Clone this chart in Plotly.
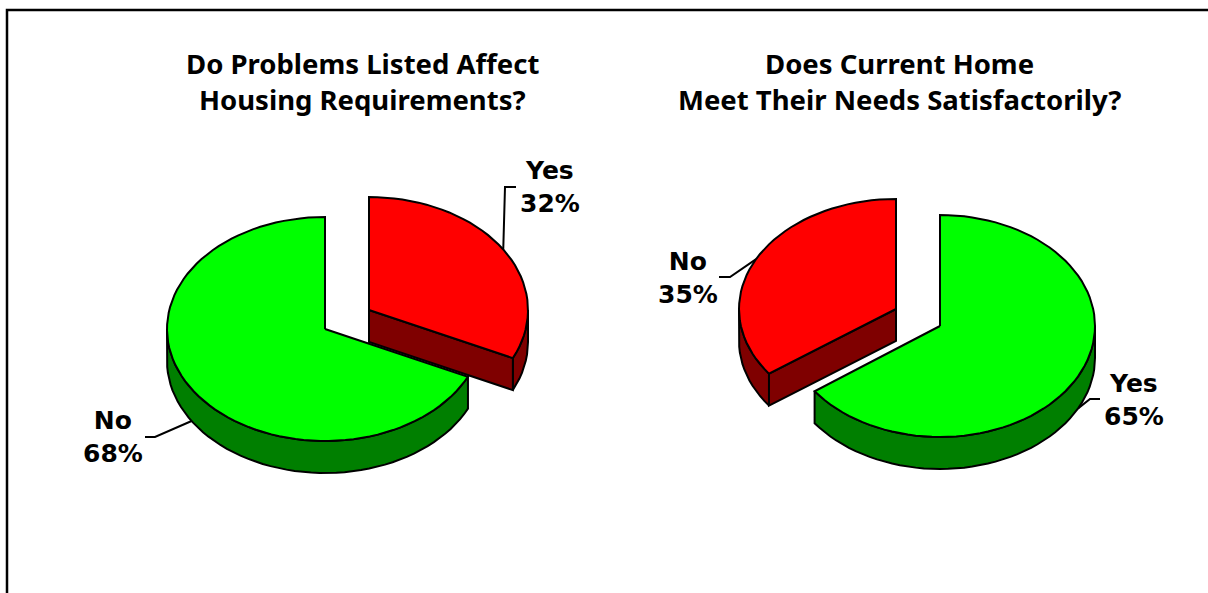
import math
import plotly.graph_objects as go

LEFT_TITLE = ["Do Problems Listed Affect", "Housing Requirements?"]
RIGHT_TITLE = ["Does Current Home", "Meet Their Needs Satisfactorily?"]
LEFT_LABELS = ["Yes", "No"]
LEFT_VALUES = [32, 68]
RIGHT_LABELS = ["Yes", "No"]
RIGHT_VALUES = [65, 35]

GREEN, DGREEN = "#00ff00", "#007f00"
RED, DRED = "#ff0000", "#7f0000"
DEPTH = 32
TITLE_FONT = dict(family="Noto Sans", size=27.5, color="#000000")
LABEL_FONT = dict(family="DejaVu Sans", size=25, color="#000000")


def pt(c, r, a):
    """a: degrees clockwise from 12 o'clock"""
    t = math.radians(a)
    return c[0] + r[0] * math.sin(t), c[1] - r[1] * math.cos(t)


def arc(c, r, a0, a1, n=3):
    k = max(2, int(abs(a1 - a0) / n))
    return [pt(c, r, a0 + (a1 - a0) * i / k) for i in range(k + 1)]


fig = go.Figure()


def poly(points, fill, close=True):
    xs = [p[0] for p in points]
    ys = [p[1] for p in points]
    if close:
        xs.append(xs[0])
        ys.append(ys[0])
    fig.add_trace(go.Scatter(x=xs, y=ys, mode="lines", fill="toself" if fill else None,
                             fillcolor=fill, line=dict(color="#000000", width=2),
                             hoverinfo="skip", showlegend=False))


def wedge(c, r, a0, a1, top, side):
    """Side wall of a wedge running clockwise from a0 to a1; returns its top rim."""
    lo, hi = max(a0, 90), min(a1, 270)
    if lo < hi:
        rim = arc(c, r, lo, hi)
        poly(rim + [(x, y + DEPTH) for x, y in reversed(rim)], side)
    return arc(c, r, a0, a1)


def radial_wall(c, r, a, side):
    e = pt(c, r, a)
    poly([c, e, (e[0], e[1] + DEPTH), (c[0], c[1] + DEPTH)], side)


def leader(start, bend, end):
    poly([start, bend, end], None, close=False)


ly = LEFT_VALUES[0] * 3.6
ry = RIGHT_VALUES[0] * 3.6
c_red, r_red = (369, 310), (159, 113)
c_grn, r_grn = (325, 329), (158, 112)
c_grn2, r_grn2 = (940, 326), (155, 111)
c_red2, r_red2 = (896, 309), (157, 110)

# Leaders first so the pies cover their inner ends
leader(pt(c_red, r_red, ly / 2), (505, 187), (516, 187))
s = pt(c_grn, r_grn, ly + (360 - ly) / 2)
leader((s[0], s[1] + DEPTH), (155, 437), (145, 437))
leader(pt(c_red2, r_red2, ry + (360 - ry) / 2), (730, 277), (719, 277))
s = pt(c_grn2, r_grn2, ry / 2)
leader((s[0], s[1] + DEPTH), (1090, 399), (1100, 399))

# Left pie: Yes runs clockwise from 12 o'clock and is pulled out
rim = wedge(c_red, r_red, 0, ly, RED, DRED)
radial_wall(c_red, r_red, ly, DRED)
poly([c_red] + rim, RED)
rim = wedge(c_grn, r_grn, ly, 360, GREEN, DGREEN)
poly([c_grn] + rim, GREEN)

# Right pie: Yes runs clockwise from 12 o'clock, No is pulled out
rim = wedge(c_grn2, r_grn2, 0, ry, GREEN, DGREEN)
poly([c_grn2] + rim, GREEN)
rim = wedge(c_red2, r_red2, ry, 360, RED, DRED)
radial_wall(c_red2, r_red2, ry, DRED)
poly([c_red2] + rim, RED)

titles = [
    (362, 63, LEFT_TITLE[0]),
    (362, 99, LEFT_TITLE[1]),
    (899, 63, RIGHT_TITLE[0]),
    (899, 99, RIGHT_TITLE[1]),
]
labels = [
    (550, 187, f"{LEFT_LABELS[0]}<br>{LEFT_VALUES[0]}%"),
    (113, 437, f"{LEFT_LABELS[1]}<br>{LEFT_VALUES[1]}%"),
    (688, 278, f"{RIGHT_LABELS[1]}<br>{RIGHT_VALUES[1]}%"),
    (1134, 400, f"{RIGHT_LABELS[0]}<br>{RIGHT_VALUES[0]}%"),
]
annotations = [dict(x=x, y=y, xref="x", yref="y", text=f"<b>{t}</b>", showarrow=False,
                    font=TITLE_FONT, align="center", xanchor="center", yanchor="middle")
               for x, y, t in titles]
annotations += [dict(x=x, y=y, xref="x", yref="y", text=f"<b>{t}</b>", showarrow=False,
                     font=LABEL_FONT, align="center", xanchor="center", yanchor="middle")
                for x, y, t in labels]

fig.update_layout(
    width=1208, height=593, margin=dict(l=0, r=0, t=0, b=0, pad=0, autoexpand=False),
    paper_bgcolor="#ffffff", plot_bgcolor="#ffffff", showlegend=False,
    xaxis=dict(range=[0, 1208], visible=False, fixedrange=True),
    yaxis=dict(range=[593, 0], visible=False, fixedrange=True),
    annotations=annotations,
    shapes=[dict(type="rect", xref="x", yref="y", x0=7, y0=10, x1=1240, y1=640,
                 line=dict(color="#000000", width=2.5), fillcolor="rgba(0,0,0,0)", layer="below")],
)
fig.write_html("out.html", config=dict(displayModeBar=False),
               post_script="document.body.style.margin='0';document.body.style.overflow='hidden';")
